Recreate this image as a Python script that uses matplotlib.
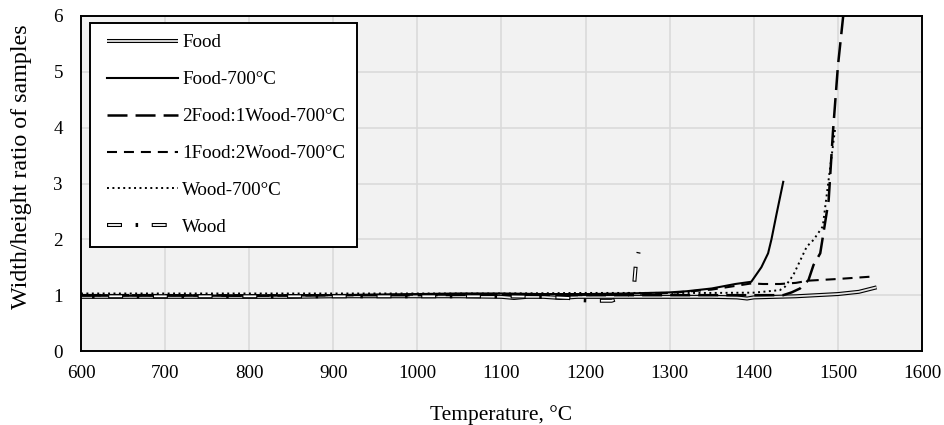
import numpy as np
import matplotlib
matplotlib.use("Agg")
import matplotlib.pyplot as plt
from matplotlib.legend_handler import HandlerTuple, HandlerLine2D
from matplotlib.lines import Line2D

plt.rcParams['font.family'] = ['Liberation Serif', 'DejaVu Serif']
plt.rcParams['lines.scale_dashes'] = False

# ---------------- data ----------------
food_T = [600, 650, 700, 750, 800, 850, 900, 950, 1000, 1050, 1100, 1115, 1130, 1150,
          1170, 1190, 1200, 1250, 1300, 1350, 1380, 1392, 1400, 1450, 1500, 1525, 1546]
food_y = [0.97, 0.97, 0.97, 0.97, 0.97, 0.97, 0.98, 0.98, 0.98, 0.98, 0.97, 0.95, 0.97, 0.97,
          0.95, 0.97, 0.97, 0.97, 0.97, 0.97, 0.96, 0.94, 0.96, 0.98, 1.02, 1.06, 1.14]

food700_T = [600, 700, 800, 900, 1000, 1050, 1100, 1150, 1200, 1250, 1300, 1320, 1350,
             1378, 1397, 1409, 1417, 1421, 1427, 1435]
food700_y = [0.99, 0.99, 0.99, 1.00, 1.02, 1.03, 1.03, 1.02, 1.02, 1.03, 1.05, 1.07, 1.12,
             1.20, 1.24, 1.50, 1.75, 2.00, 2.45, 3.03]

f2w1_T = [600, 700, 800, 900, 1000, 1100, 1200, 1300, 1400, 1435, 1445, 1455, 1465,
          1471, 1479, 1489, 1494, 1500, 1507]
f2w1_y = [1.00, 1.00, 0.99, 1.00, 1.00, 1.01, 1.00, 1.00, 1.00, 1.00, 1.05, 1.12, 1.27,
          1.54, 1.75, 2.70, 3.90, 5.10, 6.10]

f1w2_T = [600, 700, 800, 900, 1000, 1100, 1200, 1300, 1350, 1397, 1411, 1431, 1450,
          1465, 1500, 1538]
f1w2_y = [1.00, 1.00, 1.00, 1.00, 1.01, 1.01, 1.00, 1.04, 1.10, 1.21, 1.20, 1.20, 1.22,
          1.26, 1.29, 1.33]

wood700_T = [600, 700, 800, 900, 1000, 1100, 1200, 1300, 1350, 1400, 1431, 1437, 1447,
             1463, 1471, 1482, 1490, 1497]
wood700_y = [1.03, 1.03, 1.03, 1.03, 1.03, 1.03, 1.04, 1.04, 1.04, 1.045, 1.09, 1.15, 1.36,
             1.87, 1.99, 2.23, 3.19, 4.02]

wood_T = [600, 700, 800, 900, 1000, 1100, 1150, 1180, 1195, 1213, 1231, 1245, 1255,
          1258, 1259.5, 1263]
wood_y = [0.98, 0.98, 0.98, 0.98, 0.98, 0.98, 0.97, 0.95, 0.91, 0.90, 0.90, 0.97, 1.05,
          1.24, 1.51, 1.77]

labels = ['Food', 'Food-700°C', '2Food:1Wood-700°C', '1Food:2Wood-700°C',
          'Wood-700°C', 'Wood']
x_ticks = [600, 700, 800, 900, 1000, 1100, 1200, 1300, 1400, 1500, 1600]
y_ticks = [0, 1, 2, 3, 4, 5, 6]

# ---------------- figure ----------------
fig = plt.figure(figsize=(9.45, 4.25), dpi=100)
ax = fig.add_axes([81/945, 74/425, 841/945, 335/425])
ax.set_facecolor('#f2f2f2')
ax.grid(True, color='#d9d9d9', linewidth=1.1)
ax.set_axisbelow(True)
ax.set_xlim(600, 1600)
ax.set_ylim(0, 6)

# Food: double line
o1, = ax.plot(food_T, food_y, color='black', lw=2.9, solid_capstyle='butt')
i1, = ax.plot(food_T, food_y, color='#e4e4e4', lw=1.3, solid_capstyle='butt')
# Food-700
l2, = ax.plot(food700_T, food700_y, color='black', lw=1.5)
# 2Food:1Wood-700 long dash
l3, = ax.plot(f2w1_T, f2w1_y, color='black', lw=1.8, linestyle=(0, (14.4, 5.8)))
# 1Food:2Wood-700 short dash
l4, = ax.plot(f1w2_T, f1w2_y, color='black', lw=1.5, linestyle=(0, (7.2, 5.0)))
# Wood-700 dotted
l5, = ax.plot(wood700_T, wood700_y, color='black', lw=1.4, linestyle=(0, (1.4, 2.5)))

# Wood: double dash-dot, pattern aligned so that the line ends on a dot
L, g, d = 10.8, 9.8, 1.8
P = L + 2 * g + d
c = 0.8
pts = ax.transData.transform(np.column_stack([wood_T, wood_y]))
length_pt = np.sum(np.hypot(*np.diff(pts, axis=0).T)) * 72.0 / fig.dpi
off = (L + g + d / 2 - length_pt) % P
o6, = ax.plot(wood_T, wood_y, color='black', lw=2.9, linestyle=(off, (L, g, d, g)))
i6, = ax.plot(wood_T, wood_y, color='white', lw=1.3,
              linestyle=((off + P - c) % P, (L - 2 * c, P - L + 2 * c)))
# legend versions of the Wood line (pattern starting at a dash)
lo6 = Line2D([], [], color='black', lw=2.9, linestyle=(0, (L, g, d, g)))
li6 = Line2D([], [], color='white', lw=1.3, linestyle=(P - c, (L - 2 * c, P - L + 2 * c)))

ax.set_xticks(x_ticks)
ax.set_yticks(y_ticks)
ax.tick_params(length=0, labelsize=13.7)
ax.tick_params(axis='x', pad=10)
ax.tick_params(axis='y', pad=13)
for s in ax.spines.values():
    s.set_linewidth(1.4)
    s.set_color('black')

ax.set_xlabel('Temperature, °C', fontsize=15.5, labelpad=17)
ax.set_ylabel('Width/height ratio of samples', fontsize=17.3)
ax.yaxis.set_label_coords(-0.0583, 0.55)

xp = 0.3
leg = ax.legend([(o1, i1), l2, l3, l4, l5, (lo6, li6)], labels,
                handler_map={tuple: HandlerTuple(ndivide=1, xpad=xp),
                             Line2D: HandlerLine2D(xpad=xp)},
                loc='upper left', bbox_to_anchor=(0.0107, 0.98),
                borderaxespad=0, fontsize=13.7, frameon=True, fancybox=False,
                handlelength=4.0, handletextpad=0.25, labelspacing=1.03,
                borderpad=0.6)
leg.get_frame().set_edgecolor('black')
leg.get_frame().set_linewidth(1.4)
leg.get_frame().set_facecolor('white')
leg.get_frame().set_alpha(1)

fig.savefig('out.png', dpi=100)
